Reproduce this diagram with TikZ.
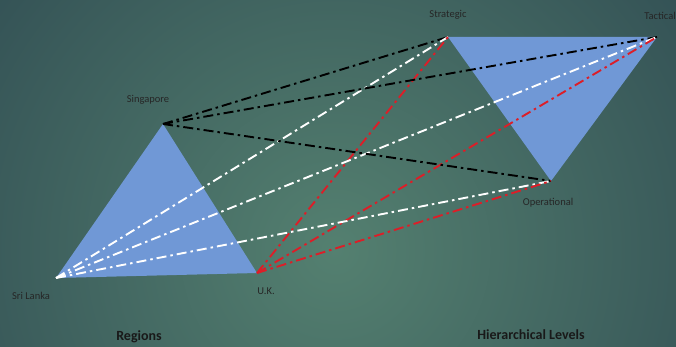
\documentclass[tikz,border=0pt]{standalone}
\usepackage{fontspec}
\setmainfont{Carlito}
\begin{document}
\begin{tikzpicture}[x=1pt,y=-1pt,
  tri/.style={fill=triblue,draw=none},
  link/.style={line width=1.9pt,dash pattern=on 10pt off 4pt on 2.5pt off 4pt},
  lbl/.style={font=\fontsize{10.5}{12}\selectfont,text=black!85,inner sep=0pt},
  ttl/.style={font=\fontsize{14}{16}\bfseries\selectfont,text=black!90,inner sep=0pt}]
\definecolor{triblue}{RGB}{112,152,214}
\definecolor{bgin}{RGB}{84,128,112}
\definecolor{bgout}{RGB}{38,62,74}
\definecolor{linkred}{RGB}{220,30,40}
\useasboundingbox (0,0) rectangle (676,347);
\begin{scope}
\clip (0,0) rectangle (676,347);
\fill[bgout] (0,0) rectangle (676,347);
\shade[inner color=bgin,outer color=bgout] (335,250) circle (620);
\end{scope}
% vertices
\coordinate (sg) at (163,124);
\coordinate (sl) at (56,278);
\coordinate (uk) at (257,273);
\coordinate (st) at (448,37);
\coordinate (ta) at (657,37);
\coordinate (op) at (551,181);
% triangles
\fill[tri] (sg) -- (sl) -- (uk) -- cycle;
\fill[tri] (st) -- (ta) -- (op) -- cycle;
% links
\foreach \t in {st,ta,op}{
  \draw[link,black] (sg) -- (\t);
  \draw[link,white] (sl) -- (\t);
  \draw[link,linkred] (uk) -- (\t);
}
% labels
\node[lbl] (lsg) at (148,100) {Singapore};
\node[lbl] (lsl) at (31,296) {Sri Lanka};
\node[lbl] (luk) at (266,291) {U.K.};
\node[lbl] (lst) at (448,15) {Strategic};
\node[lbl] (lta) at (660,16) {Tactical};
\node[lbl] (lop) at (548,203) {Operational};
\node[ttl] (reg) at (139,337) {Regions};
\node[ttl] (hier) at (531,335) {Hierarchical Levels};
\end{tikzpicture}
\end{document}
